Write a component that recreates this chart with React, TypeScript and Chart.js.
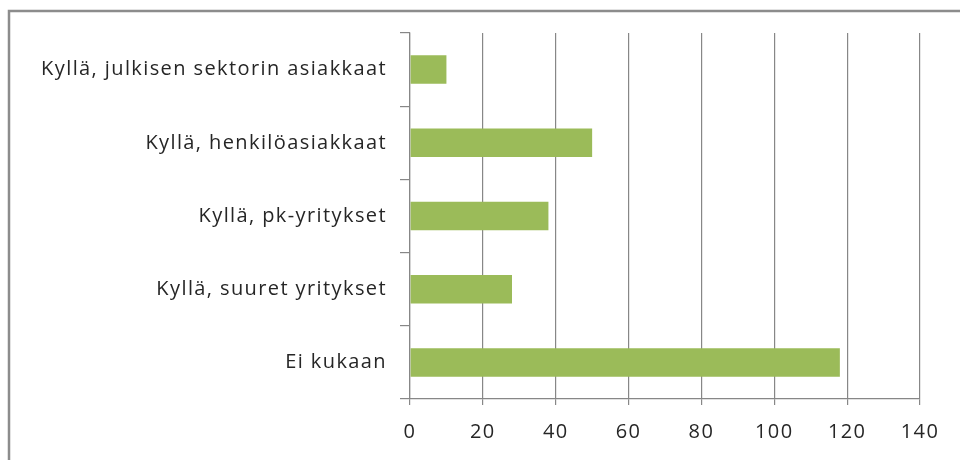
import React, { useEffect, useRef } from "react";
import { Chart, registerables } from "chart.js";

Chart.register(...registerables);

const categories = [
  "Kyllä, julkisen sektorin asiakkaat",
  "Kyllä, henkilöasiakkaat",
  "Kyllä, pk-yritykset",
  "Kyllä, suuret yritykset",
  "Ei kukaan",
];
const values = [10, 50, 38, 28, 118];
const xMin = 0;
const xMax = 140;
const xStep = 20;

const FONT = "'Open Sans', sans-serif";
const GRID = "#878787";

const frame = {
  id: "frame",
  beforeDraw(chart: any) {
    const ctx = chart.ctx;
    ctx.save();
    ctx.strokeStyle = "#8c8c8c";
    ctx.lineWidth = 2.5;
    ctx.beginPath();
    ctx.moveTo(9, 470);
    ctx.lineTo(9, 11);
    ctx.lineTo(970, 11);
    ctx.stroke();
    ctx.restore();
    (ctx as any).letterSpacing = "1.4px";
  },
};

export default function App() {
  const ref = useRef<HTMLCanvasElement | null>(null);
  useEffect(() => {
    if (!ref.current) return;
    const chart = new Chart(ref.current, {
      type: "bar",
      data: {
        labels: categories,
        datasets: [
          {
            data: values,
            backgroundColor: "#9BBB59",
            borderWidth: 0,
            categoryPercentage: 1,
            barPercentage: 0.39,
          },
        ],
      },
      options: {
        indexAxis: "y",
        animation: false,
        responsive: false,
        maintainAspectRatio: false,
        layout: { padding: { left: 0, top: 33, right: 40, bottom: 0 } },
        plugins: { legend: { display: false }, tooltip: { enabled: false } },
        scales: {
          x: {
            min: xMin,
            max: xMax,
            ticks: {
              stepSize: xStep,
              color: "#262626",
              font: { family: FONT, size: 20 },
              padding: 15,
            },
            grid: {
              color: GRID,
              lineWidth: 1.2,
              drawTicks: true,
              tickLength: 6,
              tickColor: GRID,
            },
            border: { display: true, color: GRID, width: 1.2 },
            afterFit(scale: any) {
              scale.height = 61;
            },
          },
          y: {
            offset: true,
            ticks: {
              color: "#262626",
              font: { family: FONT, size: 20 },
              padding: 13,
            },
            grid: {
              offset: true,
              drawOnChartArea: false,
              drawTicks: true,
              tickLength: 10,
              tickColor: GRID,
              lineWidth: 1.2,
            },
            border: { display: true, color: GRID, width: 1.2 },
            afterFit(scale: any) {
              scale.width = 410;
            },
          },
        },
      },
      plugins: [frame],
    });
    return () => chart.destroy();
  }, []);
  return (
    <div style={{ position: "absolute", left: 0, top: 0, width: 960, height: 460, background: "#fff" }}>
      <canvas ref={ref} width={960} height={460} style={{ display: "block" }} />
    </div>
  );
}
